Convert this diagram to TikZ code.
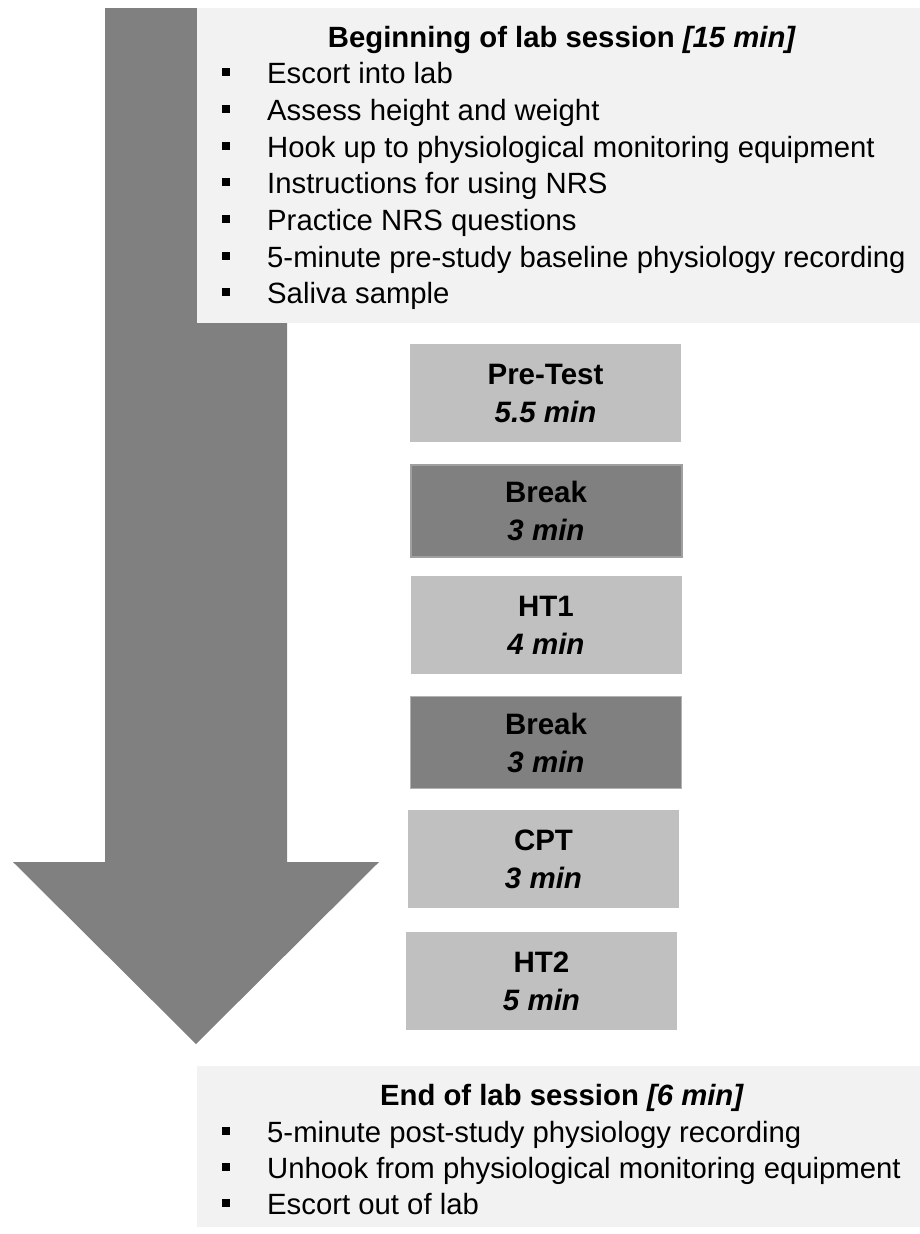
\documentclass[tikz,border=0pt]{standalone}
\usepackage{fontspec}
\setmainfont{Liberation Sans}
\definecolor{arrowgray}{HTML}{808080}
\definecolor{panelgray}{HTML}{F2F2F2}
\definecolor{lightbox}{HTML}{C0C0C0}
\definecolor{darkbox}{HTML}{808080}
\definecolor{darkedge}{HTML}{A0A0A0}
\begin{document}
\begin{tikzpicture}[x=1pt,y=-1pt,
  panel/.style={fill=panelgray,draw=none,inner sep=0pt,anchor=north west},
  txt/.style={inner sep=0pt,font=\fontsize{29.3}{35}\selectfont},
  itemtxt/.style={txt,anchor=base west},
  titletxt/.style={txt,anchor=base,font=\fontsize{29.3}{35}\selectfont\bfseries},
  bulletbox/.style={fill=black,draw=none,inner sep=0pt,minimum width=8pt,minimum height=8pt},
  phase/.style={inner sep=0pt,minimum width=271pt,align=center,
    font=\fontsize{29.5}{38}\selectfont\bfseries},
  lightphase/.style={phase,fill=lightbox,draw=none,minimum height=98pt},
  darkphase/.style={phase,fill=darkbox,draw=darkedge,line width=2pt,minimum height=92pt}
]
\useasboundingbox (0,0) rectangle (920,1234);
% big arrow
\fill[arrowgray] (105,8) -- (287,8) -- (287,862) -- (379,862) -- (196,1044) -- (13,862) -- (105,862) -- cycle;
% top panel
\node[panel,minimum width=723pt,minimum height=315pt] (top) at (197,8) {};
\node[titletxt] (toptitle) at (562,47) {Beginning of lab session \textit{[15 min]}};
\foreach \y/\t [count=\i] in {83/Escort into lab,120/Assess height and weight,157/Hook up to physiological monitoring equipment,193/Instructions for using NRS,230/Practice NRS questions,267/5-minute pre-study baseline physiology recording,303/Saliva sample}{
  \node[bulletbox] (tb\i) at (226,\y-11) {};
  \node[itemtxt] (ti\i) at (267,\y) {\t};
}
% phases
\node[lightphase] (pre) at (545.5,393) {Pre-Test\\\textit{5.5 min}};
\node[darkphase] (brk1) at (546,510.5) {Break\\\textit{3 min}};
\node[lightphase] (ht1) at (546,625) {HT1\\\textit{4 min}};
\node[darkphase,line width=1pt,draw=darkedge!80] (brk2) at (546,742.5) {Break\\\textit{3 min}};
\node[lightphase] (cpt) at (543.5,859) {CPT\\\textit{3 min}};
\node[lightphase] (ht2) at (541.5,981) {HT2\\\textit{5 min}};
% bottom panel
\node[panel,minimum width=723pt,minimum height=161pt] (bottom) at (197,1066) {};
\node[titletxt] (bottitle) at (562,1105) {End of lab session \textit{[6 min]}};
\foreach \y/\t [count=\i] in {1142/5-minute post-study physiology recording,1178/Unhook from physiological monitoring equipment,1214/Escort out of lab}{
  \node[bulletbox] (bb\i) at (226,\y-11) {};
  \node[itemtxt] (bi\i) at (267,\y) {\t};
}
\end{tikzpicture}
\end{document}
